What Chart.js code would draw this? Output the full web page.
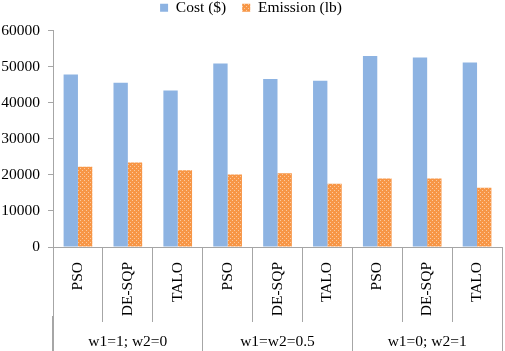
<!DOCTYPE html>
<html>
<head>
<meta charset="utf-8">
<script src="https://cdn.jsdelivr.net/npm/chart.js@4"></script>
<style>
  html, body { margin: 0; padding: 0; background: #fff; }
  #wrap { width: 505px; height: 351px; }
</style>
</head>
<body>
<div id="wrap"><canvas id="chart"></canvas></div>
<script>
// Data
const methods = ['PSO', 'DE-SQP', 'TALO', 'PSO', 'DE-SQP', 'TALO', 'PSO', 'DE-SQP', 'TALO'];
const weightGroups = ['w1=1; w2=0', 'w1=w2=0.5', 'w1=0; w2=1'];
const costValues = [47800, 45550, 43400, 50850, 46550, 46100, 52950, 52500, 51100];
const emissionValues = [22250, 23400, 21300, 20100, 20450, 17500, 18980, 18980, 16450];
const yTicks = [0, 10000, 20000, 30000, 40000, 50000, 60000];

const serif = 'Liberation Serif';
const axisGray = '#a6a6a6';

// Small dotted tile for the emission bars (like the Excel pattern fill)
function makePattern() {
    const c = document.createElement('canvas');
    c.width = 4;
    c.height = 4;
    const g = c.getContext('2d');
    g.fillStyle = '#f79646';
    g.fillRect(0, 0, 4, 4);
    g.fillStyle = '#fcc99e';
    g.fillRect(0, 0, 1, 1);
    g.fillRect(2, 2, 1, 1);
    return g.createPattern(c, 'repeat');
}

// leave a bit more room under the legend
const legendGap = {
    id: 'legendGap',
    beforeInit(chart) {
        const fit = chart.legend.fit;
        chart.legend.fit = function() {
            fit.bind(chart.legend)();
            this.height += 5;
        };
    }
};

// outer frame lines of the category band, down to the bottom edge
const bandFrame = {
    id: 'bandFrame',
    afterDraw(chart) {
        const x = chart.scales.x;
        const c = chart.ctx;
        c.save();
        c.strokeStyle = axisGray;
        c.lineWidth = 1;
        [x.left, x.right].forEach(px => {
            const p = Math.round(px) + 0.5;
            c.beginPath();
            c.moveTo(p, chart.chartArea.bottom);
            c.lineTo(p, chart.height);
            c.stroke();
        });
        c.restore();
    }
};

const ctx = document.getElementById('chart').getContext('2d');
new Chart(ctx, {
    type: 'bar',
    data: {
        labels: methods,
        datasets: [{
            label: 'Cost ($)',
            data: costValues,
            backgroundColor: '#8db3e2',
            borderWidth: 0,
            categoryPercentage: 0.575,
            barPercentage: 1.0
        }, {
            label: 'Emission (lb)',
            data: emissionValues,
            backgroundColor: makePattern(),
            borderWidth: 0,
            categoryPercentage: 0.575,
            barPercentage: 1.0
        }]
    },
    plugins: [legendGap, bandFrame],
    options: {
        responsive: true,
        maintainAspectRatio: false,
        animation: false,
        layout: { padding: { top: -16, right: 3, bottom: 0, left: 0 } },
        plugins: {
            tooltip: { enabled: false },
            legend: {
                position: 'top',
                labels: {
                    boxWidth: 8,
                    boxHeight: 8,
                    padding: 16,
                    color: '#000',
                    font: { family: serif, size: 15.5 }
                }
            }
        },
        scales: {
            x: {
                type: 'category',
                position: 'bottom',
                weight: 0,
                offset: true,
                border: { display: true, color: axisGray },
                grid: {
                    offset: true,
                    drawOnChartArea: false,
                    drawTicks: true,
                    tickLength: 75,
                    color: axisGray
                },
                ticks: {
                    autoSkip: false,
                    minRotation: 90,
                    maxRotation: 90,
                    padding: -60,
                    color: '#000',
                    font: { family: serif, size: 15.5 }
                },
                afterFit: function(scale) {
                    scale.height = 69;
                }
            },
            x2: {
                type: 'category',
                position: 'bottom',
                weight: 1,
                labels: weightGroups,
                offset: true,
                border: { display: false },
                grid: {
                    offset: true,
                    drawOnChartArea: false,
                    drawTicks: true,
                    tickLength: 35,
                    color: axisGray
                },
                ticks: {
                    autoSkip: false,
                    maxRotation: 0,
                    padding: -18,
                    color: '#000',
                    font: { family: serif, size: 15.5 }
                },
                afterFit: function(scale) {
                    scale.height = 35;
                }
            },
            y: {
                min: 0,
                max: 60000,
                border: { display: true, color: axisGray },
                grid: {
                    drawOnChartArea: false,
                    drawTicks: true,
                    tickLength: 5,
                    color: axisGray
                },
                afterBuildTicks: function(scale) {
                    scale.ticks = yTicks.map(v => ({ value: v }));
                },
                afterFit: function(scale) {
                    scale.width = 53;
                },
                ticks: {
                    padding: 8,
                    color: '#000',
                    font: { family: serif, size: 15.5 },
                    callback: function(value) {
                        return String(value);
                    }
                }
            }
        }
    }
});
</script>
</body>
</html>
